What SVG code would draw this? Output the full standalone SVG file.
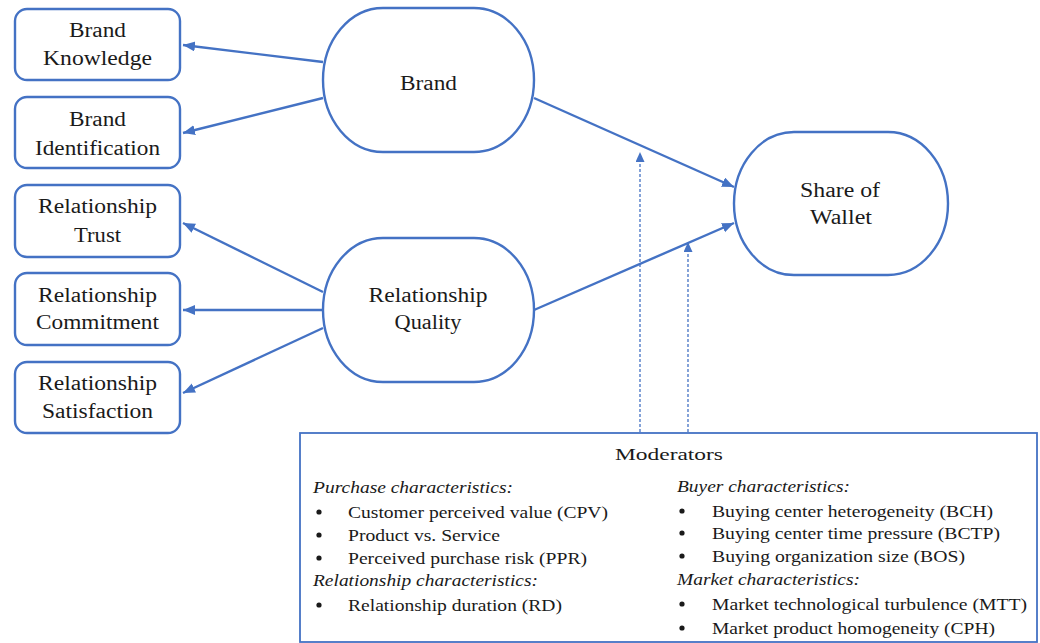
<svg xmlns="http://www.w3.org/2000/svg" width="1040" height="643" viewBox="0 0 1040 643">
<style>
.box{fill:#fff;stroke:#4472C4;stroke-width:2.4}
.t{font-family:'Liberation Serif','Times New Roman',Times,serif;font-size:20px;fill:#1a1a1a;text-anchor:middle}
.m{font-family:'Liberation Serif','Times New Roman',Times,serif;font-size:17px;fill:#1a1a1a}
.i{font-style:italic}
.b{fill:#1a1a1a}
.c{stroke:#4472C4;stroke-width:2.4;fill:none}
.d{stroke:#4472C4;stroke-width:1.3;fill:none;stroke-dasharray:3 2}
</style>
<defs>
<marker id="ah" markerUnits="userSpaceOnUse" markerWidth="14" markerHeight="12" refX="12" refY="5" orient="auto">
<path d="M0,0 L12,5 L0,10 Z" fill="#4472C4"/>
</marker>
<marker id="ahs" markerUnits="userSpaceOnUse" markerWidth="12" markerHeight="12" refX="10" refY="4.5" orient="auto">
<path d="M0,0 L10,4.5 L0,9 Z" fill="#4472C4"/>
</marker>
</defs>
<rect width="1040" height="643" fill="#fff"/>
<g id="connectors">
<line class="c" x1="323" y1="62" x2="183" y2="45" marker-end="url(#ah)"/>
<line class="c" x1="323" y1="98" x2="183" y2="133" marker-end="url(#ah)"/>
<line class="c" x1="323" y1="292" x2="183" y2="223" marker-end="url(#ah)"/>
<line class="c" x1="323" y1="310" x2="183" y2="310" marker-end="url(#ah)"/>
<line class="c" x1="323" y1="328" x2="183" y2="393" marker-end="url(#ah)"/>
<line class="c" x1="534" y1="98" x2="734" y2="187" marker-end="url(#ah)"/>
<line class="c" x1="534" y1="310" x2="734" y2="223" marker-end="url(#ah)"/>
<line class="d" x1="640" y1="432" x2="640" y2="152" marker-end="url(#ahs)"/>
<line class="d" x1="688" y1="432" x2="688" y2="242" marker-end="url(#ahs)"/>
</g>
<g id="brand-knowledge">
<rect class="box" x="15" y="9" width="165" height="71" rx="12"/>
<text class="t" x="97.5" y="37" textLength="57" lengthAdjust="spacingAndGlyphs">Brand</text>
<text class="t" x="97.5" y="65" textLength="109" lengthAdjust="spacingAndGlyphs">Knowledge</text>
</g>
<g id="brand-identification">
<rect class="box" x="15" y="97" width="165" height="71" rx="12"/>
<text class="t" x="97.5" y="126" textLength="57" lengthAdjust="spacingAndGlyphs">Brand</text>
<text class="t" x="97.5" y="155" textLength="125" lengthAdjust="spacingAndGlyphs">Identification</text>
</g>
<g id="relationship-trust">
<rect class="box" x="15" y="185" width="165" height="72" rx="12"/>
<text class="t" x="97.5" y="213" textLength="119" lengthAdjust="spacingAndGlyphs">Relationship</text>
<text class="t" x="97.5" y="242" textLength="47" lengthAdjust="spacingAndGlyphs">Trust</text>
</g>
<g id="relationship-commitment">
<rect class="box" x="15" y="273" width="165" height="72" rx="12"/>
<text class="t" x="97.5" y="302" textLength="119" lengthAdjust="spacingAndGlyphs">Relationship</text>
<text class="t" x="97.5" y="329" textLength="123" lengthAdjust="spacingAndGlyphs">Commitment</text>
</g>
<g id="relationship-satisfaction">
<rect class="box" x="15" y="362" width="165" height="71" rx="12"/>
<text class="t" x="97.5" y="390" textLength="119" lengthAdjust="spacingAndGlyphs">Relationship</text>
<text class="t" x="97.5" y="418" textLength="111" lengthAdjust="spacingAndGlyphs">Satisfaction</text>
</g>
<g id="brand">
<rect class="box" x="323" y="8" width="211" height="144" rx="60" ry="72"/>
<text class="t" x="428.5" y="90" textLength="57" lengthAdjust="spacingAndGlyphs">Brand</text>
</g>
<g id="relationship-quality">
<rect class="box" x="323" y="238" width="211" height="144" rx="60" ry="72"/>
<text class="t" x="428" y="302" textLength="119" lengthAdjust="spacingAndGlyphs">Relationship</text>
<text class="t" x="428" y="329" textLength="67" lengthAdjust="spacingAndGlyphs">Quality</text>
</g>
<g id="share-of-wallet">
<rect class="box" x="734" y="132" width="214" height="143" rx="60" ry="71.5"/>
<text class="t" x="840" y="197" textLength="80" lengthAdjust="spacingAndGlyphs">Share of</text>
<text class="t" x="841" y="224" textLength="62" lengthAdjust="spacingAndGlyphs">Wallet</text>
</g>
<g id="moderators">
<rect x="300" y="433" width="737" height="209" fill="#fff" stroke="#4472C4" stroke-width="1.8"/>
<text class="m" x="669" y="460" text-anchor="middle" font-size="20" textLength="108" lengthAdjust="spacingAndGlyphs">Moderators</text>
<text class="m i" x="313" y="493" textLength="200" lengthAdjust="spacingAndGlyphs">Purchase characteristics:</text>
<circle class="b" cx="319" cy="512" r="2.6"/>
<text class="m" x="348" y="518" textLength="260" lengthAdjust="spacingAndGlyphs">Customer perceived value (CPV)</text>
<circle class="b" cx="319" cy="535" r="2.6"/>
<text class="m" x="348" y="541" textLength="152" lengthAdjust="spacingAndGlyphs">Product vs. Service</text>
<circle class="b" cx="319" cy="558" r="2.6"/>
<text class="m" x="348" y="564" textLength="239" lengthAdjust="spacingAndGlyphs">Perceived purchase risk (PPR)</text>
<text class="m i" x="313" y="586" textLength="225" lengthAdjust="spacingAndGlyphs">Relationship characteristics:</text>
<circle class="b" cx="319" cy="605" r="2.6"/>
<text class="m" x="348" y="611" textLength="214" lengthAdjust="spacingAndGlyphs">Relationship duration (RD)</text>
<text class="m i" x="677" y="492" textLength="173" lengthAdjust="spacingAndGlyphs">Buyer characteristics:</text>
<circle class="b" cx="682" cy="511" r="2.6"/>
<text class="m" x="712" y="517" textLength="281" lengthAdjust="spacingAndGlyphs">Buying center heterogeneity (BCH)</text>
<circle class="b" cx="682" cy="533" r="2.6"/>
<text class="m" x="712" y="539" textLength="288" lengthAdjust="spacingAndGlyphs">Buying center time pressure (BCTP)</text>
<circle class="b" cx="682" cy="556" r="2.6"/>
<text class="m" x="712" y="562" textLength="253" lengthAdjust="spacingAndGlyphs">Buying organization size (BOS)</text>
<text class="m i" x="677" y="585" textLength="183" lengthAdjust="spacingAndGlyphs">Market characteristics:</text>
<circle class="b" cx="682" cy="604" r="2.6"/>
<text class="m" x="712" y="610" textLength="315" lengthAdjust="spacingAndGlyphs">Market technological turbulence (MTT)</text>
<circle class="b" cx="682" cy="628" r="2.6"/>
<text class="m" x="712" y="634" textLength="283" lengthAdjust="spacingAndGlyphs">Market product homogeneity (CPH)</text>
</g>
</svg>
